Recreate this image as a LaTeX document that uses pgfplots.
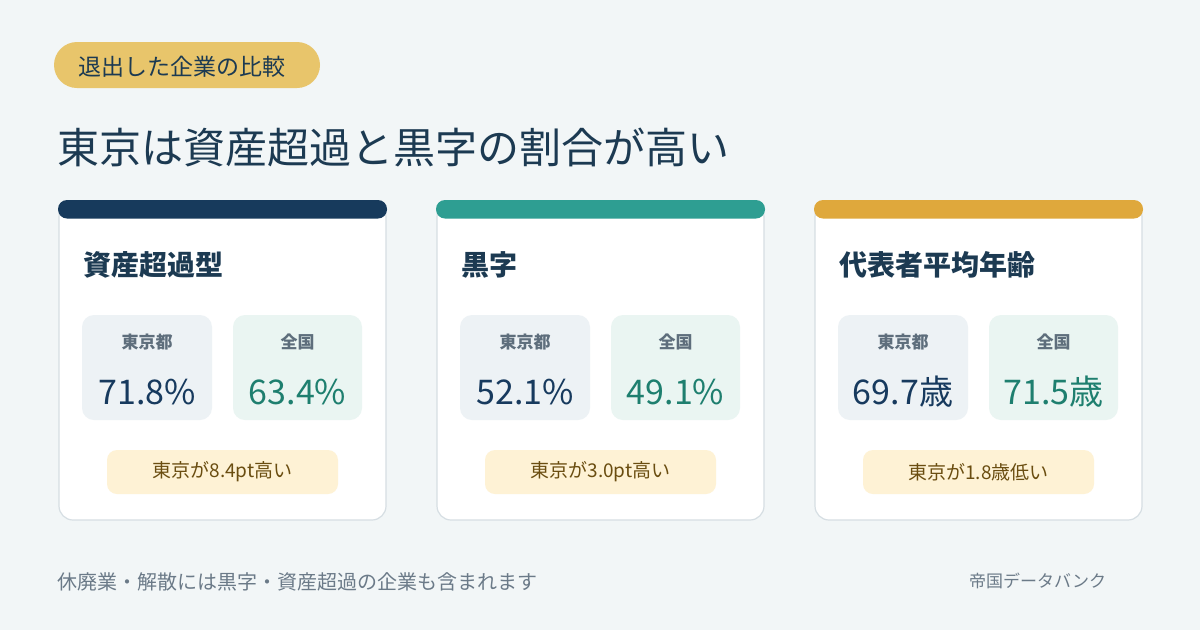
\documentclass[border=0pt]{standalone}
\usepackage{fontspec}
\setmainfont{Noto Sans CJK JP}
\usepackage{pgfplots}
\pgfplotsset{compat=1.18}
\usepackage{pgfplotstable}

\definecolor{bg}{HTML}{F2F6F7}
\definecolor{ink}{HTML}{1C3A52}
\definecolor{tagfill}{HTML}{E8C56B}
\definecolor{barA}{HTML}{173A5C}
\definecolor{barB}{HTML}{2E9E92}
\definecolor{barC}{HTML}{DFA83C}
\definecolor{cardline}{HTML}{D6DEE3}
\definecolor{boxA}{HTML}{EDF2F5}
\definecolor{boxB}{HTML}{EAF5F2}
\definecolor{lbl}{HTML}{5E6E7C}
\definecolor{valA}{HTML}{173A5E}
\definecolor{valB}{HTML}{1E7F6F}
\definecolor{notefill}{HTML}{FEF2D5}
\definecolor{notetext}{HTML}{6A4D10}
\definecolor{foot}{HTML}{6B7A88}

\newcommand\fs[1]{\fontsize{#1}{#1}\selectfont}

% values: x = centre of the box, y = row of the value
\pgfplotstableread{
x y v
147 392 71.8
525 392 52.1
}\tokyopct
\pgfplotstableread{
x y v
297.5 392 63.4
675.5 392 49.1
}\zenkokupct
\pgfplotstableread{
x y v
903 392 69.7
}\tokyoage
\pgfplotstableread{
x y v
1053.5 392 71.5
}\zenkokuage

% one card: #1 x offset, #2 bar colour, #3 title, #4 note
\newcommand\card[4]{%
  \draw[cardline, line width=1.2pt, fill=white, rounded corners=14pt]
    (axis cs:{#1+59},203) rectangle (axis cs:{#1+386},520);
  \fill[#2, rounded corners=9pt] (axis cs:{#1+58},200) rectangle (axis cs:{#1+387},218.5);
  \node[anchor=west, inner sep=0pt, font=\bfseries\fs{28}, text=ink] at (axis cs:{#1+83},265) {#3};
  \fill[boxA, rounded corners=12pt] (axis cs:{#1+82},315) rectangle (axis cs:{#1+212},420);
  \fill[boxB, rounded corners=12pt] (axis cs:{#1+233},315) rectangle (axis cs:{#1+362},420);
  \node[inner sep=0pt, font=\bfseries\fs{17}, text=lbl] at (axis cs:{#1+147},342) {東京都};
  \node[inner sep=0pt, font=\bfseries\fs{17}, text=lbl] at (axis cs:{#1+297.5},342) {全国};
  \fill[notefill, rounded corners=10pt] (axis cs:{#1+107},450) rectangle (axis cs:{#1+338},494);
  \node[inner sep=0pt, font=\fs{19}, text=notetext] at (axis cs:{#1+222.5},472) {#4};
}

\begin{document}
\begin{tikzpicture}
\begin{axis}[
    width=1200pt, height=630pt, scale only axis,
    xmin=0, xmax=1200, ymin=0, ymax=630,
    y dir=reverse,
    hide axis, clip=false,
    point meta=explicit symbolic,
    nodes near coords style={anchor=center, inner sep=0pt, font=\fs{34}},
  ]
  \fill[bg] (axis cs:0,0) rectangle (axis cs:1200,630);

  \fill[tagfill, rounded corners=23pt] (axis cs:54,42) rectangle (axis cs:320,88);
  \node[anchor=west, inner sep=0pt, font=\fs{23}, text=ink] at (axis cs:78,67) {退出した企業の比較};
  \node[anchor=west, inner sep=0pt, font=\fs{42}, text=ink] at (axis cs:57,147) {東京は資産超過と黒字の割合が高い};

  \card{0}{barA}{資産超過型}{東京が8.4pt高い}
  \card{378}{barB}{黒字}{東京が3.0pt高い}
  \card{756}{barC}{代表者平均年齢}{東京が1.8歳低い}

  \node[anchor=west, inner sep=0pt, font=\fs{20}, text=foot] at (axis cs:57,582) {休廃業・解散には黒字・資産超過の企業も含まれます};
  \node[anchor=west, inner sep=0pt, font=\fs{17}, text=foot] at (axis cs:969,581) {帝国データバンク};

  \addplot[draw=none, nodes near coords={\pgfplotspointmeta\%}, nodes near coords style={text=valA}]
    table[x=x, y=y, meta=v] {\tokyopct};
  \addplot[draw=none, nodes near coords={\pgfplotspointmeta\%}, nodes near coords style={text=valB}]
    table[x=x, y=y, meta=v] {\zenkokupct};
  \addplot[draw=none, nodes near coords={\pgfplotspointmeta 歳}, nodes near coords style={text=valA}]
    table[x=x, y=y, meta=v] {\tokyoage};
  \addplot[draw=none, nodes near coords={\pgfplotspointmeta 歳}, nodes near coords style={text=valB}]
    table[x=x, y=y, meta=v] {\zenkokuage};
\end{axis}
\end{tikzpicture}
\end{document}
